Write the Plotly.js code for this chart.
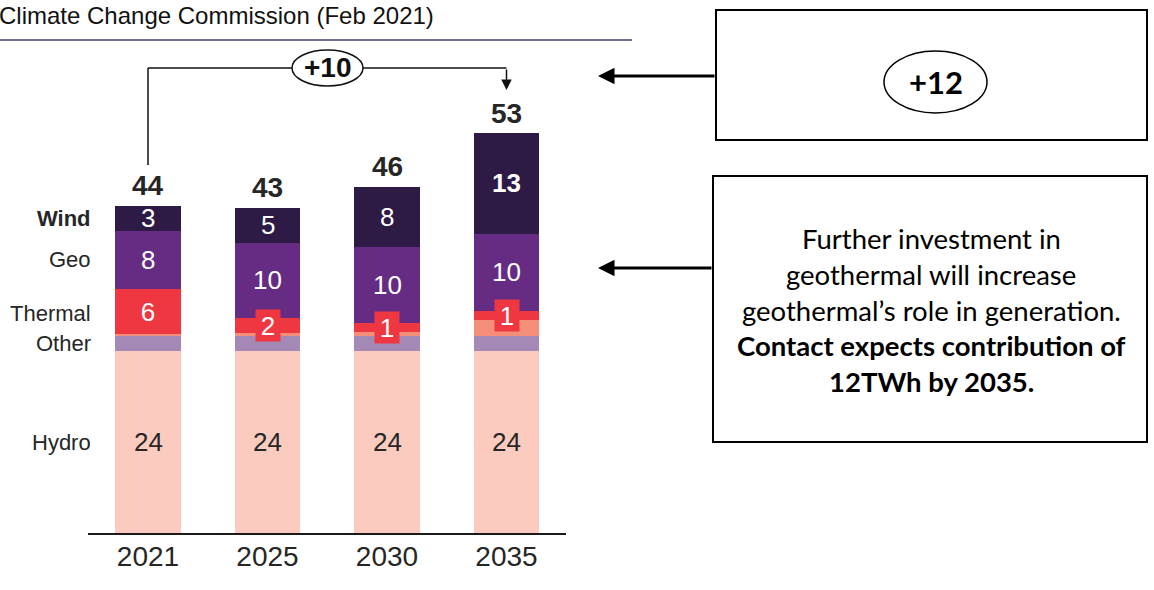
<!DOCTYPE html>
<html>
<head>
<meta charset="utf-8">
<script src="https://cdn.plot.ly/plotly-3.0.1.min.js"></script>
<style>html,body{margin:0;padding:0;background:#fff;}#chart{width:1154px;height:590px;}</style>
</head>
<body>
<div id="chart"></div>
<script>
// ---- data (TWh) ----
const years = ['2021', '2025', '2030', '2035'];
const hydro = [24.1, 24.1, 24.1, 24.1];
const other = [2.0, 2.0, 2.0, 2.0];
const otherMinor = [0.3, 0.4, 0.5, 2.2];
const thermal = [5.9, 2.0, 1.3, 1.1];
const geo = [7.8, 10.0, 10.0, 10.3];
const wind = [3.3, 4.6, 8.0, 13.3];
const totals = ['44', '43', '46', '53'];
const hydroLabels = ['24', '24', '24', '24'];
const thermalLabels = ['6', '2', '1', '1'];
const geoLabels = ['8', '10', '10', '10'];
const windLabels = ['3', '5', '8', '13'];
const seriesNames = ['Hydro', 'Other', 'Thermal', 'Geo', 'Wind'];
const titleText = 'Climate Change Commission (Feb 2021)';
const diffLabel = '+10';
const boxLabel = '+12';
const noteLines = ['Further investment in', 'geothermal will increase', 'geothermal’s role in generation.'];
const noteBold = ['Contact expects contribution of', '12TWh by 2035.'];

// ---- layout helpers ----
const W = 1154, H = 590;
const px = x => x / W;
const py = y => 1 - y / H;
const FONT = 'Liberation Sans, Arial, sans-serif';
const NOTE_FONT = 'Lato, Noto Sans, sans-serif';
const DARK = '#262626';

const colors = {
  hydro: '#FBCBBF', other: '#A489B7', minor: '#F48E78',
  thermal: '#EF3741', geo: '#662C84', wind: '#2D1B46'
};

function bar(name, y, color) {
  return {type: 'bar', name: name, x: years, y: y,
    marker: {color: color, line: {width: 0}}, hoverinfo: 'skip', showlegend: false};
}
const traces = [
  bar(seriesNames[0], hydro, colors.hydro),
  bar(seriesNames[1], other, colors.other),
  bar('Other (minor)', otherMinor, colors.minor),
  bar(seriesNames[2], thermal, colors.thermal),
  bar(seriesNames[3], geo, colors.geo),
  bar(seriesNames[4], wind, colors.wind)
];

const ann = [];
const shapes = [];
function A(o) { ann.push(Object.assign({xanchor: 'center', yanchor: 'middle', showarrow: false}, o)); }

// segment labels at midpoints of each segment
years.forEach((yr, i) => {
  const b0 = 0;
  const b1 = b0 + hydro[i];
  const b2 = b1 + other[i];
  const b3 = b2 + otherMinor[i];
  const b4 = b3 + thermal[i];
  const b5 = b4 + geo[i];
  const b6 = b5 + wind[i];
  A({x: i, y: (b0 + b1) / 2, xref: 'x', yref: 'y', text: hydroLabels[i],
    font: {family: FONT, size: 26, color: DARK}});
  A({x: i, y: (b3 + b4) / 2, xref: 'x', yref: 'y', text: thermalLabels[i],
    font: {family: FONT, size: 26, color: '#ffffff'}, bgcolor: colors.thermal, width: 24, height: 31, borderpad: 0});
  A({x: i, y: (b4 + b5) / 2, xref: 'x', yref: 'y', text: geoLabels[i],
    font: {family: FONT, size: 26, color: '#ffffff'}});
  A({x: i, y: (b5 + b6) / 2, xref: 'x', yref: 'y',
    text: windLabels[i].length > 1 ? '<b>' + windLabels[i] + '</b>' : windLabels[i],
    font: {family: FONT, size: 26, color: '#ffffff'}});
  A({x: i, y: b6, xref: 'x', yref: 'y', yshift: 20, text: '<b>' + totals[i] + '</b>',
    font: {family: FONT, size: 28, color: DARK}});
});

// left category labels, aligned to the 2021 bar segments
(function () {
  const b1 = hydro[0], b2 = b1 + other[0], b3 = b2 + otherMinor[0], b4 = b3 + thermal[0], b5 = b4 + geo[0], b6 = b5 + wind[0];
  const lab = [[seriesNames[4], (b5 + b6) / 2, true], [seriesNames[3], (b4 + b5) / 2, false],
    [seriesNames[2], (b3 + b4) / 2 - 0.2, false], [seriesNames[1], (b1 + b2) / 2, false], [seriesNames[0], b1 / 2, false]];
  lab.forEach(l => A({x: px(93), y: l[1], xref: 'paper', yref: 'y', xanchor: 'right',
    text: l[2] ? '<b>' + l[0] + '</b>' : l[0], font: {family: FONT, size: 22, color: DARK}}));
})();

// title and rule
A({x: px(-3), y: py(15), xref: 'paper', yref: 'paper', xanchor: 'left',
  text: titleText, font: {family: FONT, size: 24, color: '#111'}});
shapes.push({type: 'line', xref: 'paper', yref: 'paper', x0: 0, x1: px(632), y0: py(40), y1: py(40),
  line: {color: '#4A3A66', width: 1.5}});

// bracket from 2021 to 2035
shapes.push({type: 'line', xref: 'x', yref: 'paper', x0: 0, x1: 0, y0: py(165), y1: py(68), line: {color: '#111', width: 1.5}});
shapes.push({type: 'line', xref: 'x', yref: 'paper', x0: 0, x1: 3, y0: py(68), y1: py(68), line: {color: '#111', width: 1.5}});
ann.push({x: 3, y: py(90), xref: 'x', yref: 'paper', ax: 0, ay: -22, text: '', showarrow: true,
  arrowhead: 2, arrowsize: 1.4, arrowwidth: 1.5, arrowcolor: '#111'});
shapes.push({type: 'circle', xref: 'paper', yref: 'paper', x0: px(292), x1: px(363), y0: py(86), y1: py(50),
  fillcolor: '#fff', line: {color: '#111', width: 1.5}});
A({x: px(327.5), y: py(67.5), xref: 'paper', yref: 'paper', text: '<b>' + diffLabel + '</b>',
  font: {family: FONT, size: 28, color: '#111'}});

// right boxes
shapes.push({type: 'rect', xref: 'paper', yref: 'paper', x0: px(716), x1: px(1147), y0: py(140), y1: py(10),
  line: {color: '#000', width: 2}, fillcolor: 'rgba(0,0,0,0)'});
shapes.push({type: 'circle', xref: 'paper', yref: 'paper', x0: px(884), x1: px(987), y0: py(113), y1: py(51),
  line: {color: '#000', width: 1.5}, fillcolor: '#fff'});
A({x: px(935.5), y: py(82), xref: 'paper', yref: 'paper', text: '<b>' + boxLabel + '</b>',
  font: {family: NOTE_FONT, size: 31, color: '#000'}});
ann.push({x: px(598), y: py(76), xref: 'paper', yref: 'paper', ax: 118, ay: 0, text: '', showarrow: true,
  arrowhead: 2, arrowsize: 1.1, arrowwidth: 3, arrowcolor: '#000'});

shapes.push({type: 'rect', xref: 'paper', yref: 'paper', x0: px(713), x1: px(1147), y0: py(442), y1: py(176),
  line: {color: '#000', width: 2}, fillcolor: 'rgba(0,0,0,0)'});
ann.push({x: px(598), y: py(268), xref: 'paper', yref: 'paper', ax: 115, ay: 0, text: '', showarrow: true,
  arrowhead: 2, arrowsize: 1.1, arrowwidth: 3, arrowcolor: '#000'});
const lineYs = [239, 274.5, 310, 345.5, 381];
noteLines.concat(noteBold).forEach((t, k) => {
  A({x: px(931), y: py(lineYs[k]), xref: 'paper', yref: 'paper', text: k >= noteLines.length ? '<b>' + t + '</b>' : t,
    font: {family: NOTE_FONT, size: 27.5, color: '#000'}});
});

const layout = {
  width: W, height: H,
  margin: {l: 0, r: 0, t: 0, b: 0},
  paper_bgcolor: '#fff', plot_bgcolor: '#fff',
  barmode: 'stack', bargap: 0.448,
  showlegend: false,
  xaxis: {type: 'category', domain: [px(88.25), px(566.25)], range: [-0.5, 3.5],
    showline: true, linecolor: '#1a1a1a', linewidth: 2, ticks: '', showgrid: false, zeroline: false,
    ticklabelstandoff: -3,
    tickfont: {family: FONT, size: 28, color: DARK}, fixedrange: true},
  yaxis: {domain: [py(533), py(5)], range: [0, 70], visible: false, showgrid: false, zeroline: false, fixedrange: true},
  annotations: ann,
  shapes: shapes
};

Plotly.newPlot('chart', traces, layout, {displayModeBar: false, staticPlot: true});
</script>
</body>
</html>
